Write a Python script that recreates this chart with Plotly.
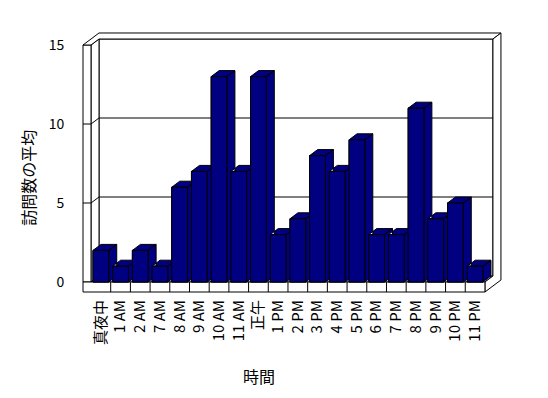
import plotly.graph_objects as go

# ---- data ----
categories = ["真夜中", "1 AM", "2 AM", "7 AM", "8 AM", "9 AM", "10 AM", "11 AM", "正午",
              "1 PM", "2 PM", "3 PM", "4 PM", "5 PM", "6 PM", "7 PM", "8 PM", "9 PM", "10 PM", "11 PM"]
values = [2, 1, 2, 1, 6, 7, 13, 7, 13, 3, 4, 8, 7, 9, 3, 3, 11, 4, 5, 1]
y_ticks = [0, 5, 10, 15]
y_tick_labels = ["0", "5", "10", "15"]
x_title = "時間"
y_title = "訪問数の平均"

# ---- 3D geometry (in axis units) ----
NAVY = "#000080"
FONT = "Noto Sans CJK JP, Liberation Sans, sans-serif"
DX = 0.406   # depth offset along x
DY = 0.38    # depth offset along y
WL = 0.406   # left wall thickness
FT = 0.633   # floor thickness
HALF = 0.4   # half bar width
n = len(categories)
X0, X1 = -0.5, n - 0.5
YMAX = y_ticks[-1]


def P(x, y, k):
    return (x + k * DX, y + k * DY)


def path(pts):
    return "M " + " L ".join(f"{x:.4f},{y:.4f}" for x, y in pts) + " Z"


shapes = []


def poly(pts, fill="white"):
    shapes.append(dict(type="path", path=path(pts), xref="x", yref="y", layer="below",
                       fillcolor=fill, line=dict(color="black", width=1)))


def seg(a, b):
    shapes.append(dict(type="line", x0=a[0], y0=a[1], x1=b[0], y1=b[1], xref="x", yref="y",
                       layer="below", line=dict(color="black", width=1)))


# floor top face
poly([P(X0, 0, 0), P(X1, 0, 0), P(X1, 0, 1), P(X0, 0, 1)])
# back wall front face
poly([P(X0, 0, 1), P(X1, 0, 1), P(X1, YMAX, 1), P(X0, YMAX, 1)])
for t in y_ticks[1:-1]:
    seg(P(X0, t, 1), P(X1, t, 1))
# left wall inner face
poly([P(X0, 0, 0), P(X0, YMAX, 0), P(X0, YMAX, 1), P(X0, 0, 1)])
for t in y_ticks[1:-1]:
    seg(P(X0, t, 0), P(X0, t, 1))
# left wall front face
poly([(X0 - WL, 0), (X0, 0), (X0, YMAX), (X0 - WL, YMAX)])
for t in y_ticks[1:-1]:
    seg((X0 - WL, t), (X0, t))
# top faces of left and back walls
poly([P(X0 - WL, YMAX, 0), P(X0, YMAX, 0), P(X0, YMAX, 1), P(X1, YMAX, 1),
      P(X1, YMAX, 2), P(X0 - WL, YMAX, 2)])
# right end faces of back wall and floor
poly([P(X1, YMAX, 1), P(X1, YMAX, 2), P(X1, -FT, 2), P(X1, -FT, 0), P(X1, 0, 0), P(X1, 0, 1)])
# floor front face with category dividers
poly([(X0 - WL, -FT), (X1, -FT), (X1, 0), (X0 - WL, 0)])
for k in range(1, n):
    seg((X0 + k, -FT), (X0 + k, 0))

# ---- bars: tops + sides, then fronts ----
sx, sy = [], []
fx, fy = [], []
for i, v in enumerate(values):
    l, r = i - HALF, i + HALF
    for pts in ([P(l, v, 0), P(r, v, 0), P(r, v, 1), P(l, v, 1)],
                [P(r, 0, 0), P(r, v, 0), P(r, v, 1), P(r, 0, 1)]):
        for x, y in pts + [pts[0]]:
            sx.append(x); sy.append(y)
        sx.append(None); sy.append(None)
    for x, y in [(l, 0), (r, 0), (r, v), (l, v), (l, 0)]:
        fx.append(x); fy.append(y)
    fx.append(None); fy.append(None)

fig = go.Figure()
fig.add_trace(go.Bar(x=list(range(n)), y=values, width=2 * HALF,
                     marker=dict(color=NAVY, line=dict(color="black", width=1)),
                     hoverinfo="skip"))
fig.add_trace(go.Scatter(x=sx, y=sy, mode="lines", fill="toself", fillcolor=NAVY,
                         line=dict(color="black", width=1), hoverinfo="skip"))
fig.add_trace(go.Scatter(x=fx, y=fy, mode="lines", fill="toself", fillcolor=NAVY,
                         line=dict(color="black", width=1), hoverinfo="skip"))

fig.update_layout(
    width=540, height=390,
    template="none",
    paper_bgcolor="white", plot_bgcolor="white",
    showlegend=False,
    margin=dict(l=70, r=40, t=20, b=102),
    font=dict(family=FONT, color="black", size=13),
    shapes=shapes,
    xaxis=dict(range=[-1.16, 20.67], tickvals=list(range(n)), ticktext=categories,
               tickangle=-90, showgrid=False, zeroline=False, showline=False,
               ticks="", automargin=False, tickfont=dict(size=15)),
    yaxis=dict(range=[-0.886, 16.076], tickvals=y_ticks, ticktext=y_tick_labels,
               showgrid=False, zeroline=False, showline=False, ticks="outside",
               ticklen=10, tickcolor="rgba(0,0,0,0)", automargin=False,
               tickfont=dict(size=14)),
    annotations=[
        dict(text=x_title, xref="paper", yref="paper", x=0.42, y=-0.2985,
             showarrow=False, font=dict(size=16), xanchor="center", yanchor="middle"),
        dict(text=y_title, xref="paper", yref="paper", x=-0.115, y=0.44,
             showarrow=False, font=dict(size=16), textangle=-90,
             xanchor="center", yanchor="middle"),
    ],
)

fig.write_html("out.html")
